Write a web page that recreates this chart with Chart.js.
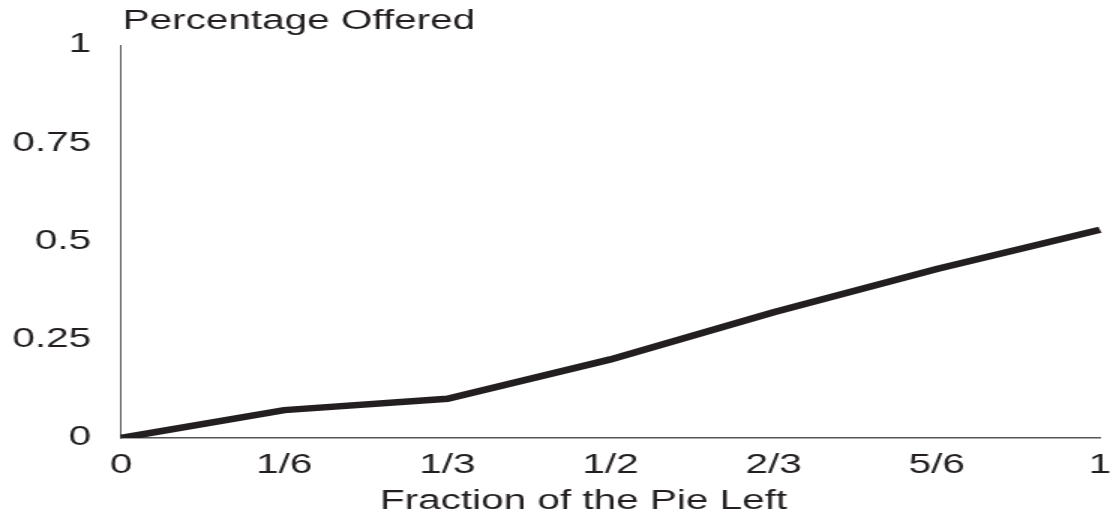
<!DOCTYPE html>
<html>
<head>
<meta charset="utf-8">
<script src="https://cdn.jsdelivr.net/npm/chart.js@4/dist/chart.umd.min.js"></script>
<style>
  html, body { margin: 0; padding: 0; background: #fff; }
  #chart { display: block; }
</style>
</head>
<body>
<!-- the original figure is stretched sideways, so the canvas is drawn narrow and widened by its inline style -->
<canvas id="chart" width="740" height="522" style="width:1110px;height:522px"></canvas>
<script>
const fractions = ["0", "1/6", "1/3", "1/2", "2/3", "5/6", "1"];
const offered = [0, 0.071, 0.10, 0.20, 0.32, 0.43, 0.53];
const yTicks = [0, 0.25, 0.5, 0.75, 1];

const yTitle = "Percentage Offered";
const xTitle = "Fraction of the Pie Left";

const ink = "#231f20";
const font = { family: "'Liberation Sans', Arial, Helvetica, sans-serif", size: 27 };

// y title sits flat on top of the axis, x title a little left of centre
const titles = {
  id: "titles",
  afterDraw(chart) {
    const ctx = chart.ctx;
    const area = chart.chartArea;
    ctx.save();
    ctx.fillStyle = ink;
    ctx.font = font.size + "px " + font.family;
    ctx.textBaseline = "middle";
    ctx.textAlign = "left";
    ctx.fillText(yTitle, area.left + 1, 22);
    ctx.textAlign = "center";
    ctx.fillText(xTitle, (area.left + area.right) / 2 - 18, 502);
    ctx.restore();
  }
};

new Chart(document.getElementById("chart"), {
  type: "line",
  data: {
    labels: fractions,
    datasets: [{
      data: offered,
      borderColor: ink,
      borderWidth: 6.5,
      pointRadius: 0,
      tension: 0,
      fill: false
    }]
  },
  options: {
    responsive: false,
    animation: false,
    layout: { padding: { top: 45, right: 0, left: 0, bottom: 0 } },
    plugins: {
      legend: { display: false },
      tooltip: { enabled: false }
    },
    scales: {
      x: {
        offset: false,
        grid: { display: false },
        border: { display: true, color: "#555", width: 1.5 },
        ticks: { color: ink, font, padding: 3, maxRotation: 0, autoSkip: false },
        afterFit: s => {
          s.height = 522 - 438;
          s.paddingRight = 6.7;
        }
      },
      y: {
        min: 0,
        max: 1,
        afterBuildTicks: s => { s.ticks = yTicks.map(v => ({ value: v })); },
        grid: { display: false },
        border: { display: true, color: "#555", width: 1 },
        ticks: { color: ink, font, padding: 12, callback: v => String(v) },
        afterFit: s => { s.width = 80.7; }
      }
    }
  },
  plugins: [titles]
});
</script>
</body>
</html>
